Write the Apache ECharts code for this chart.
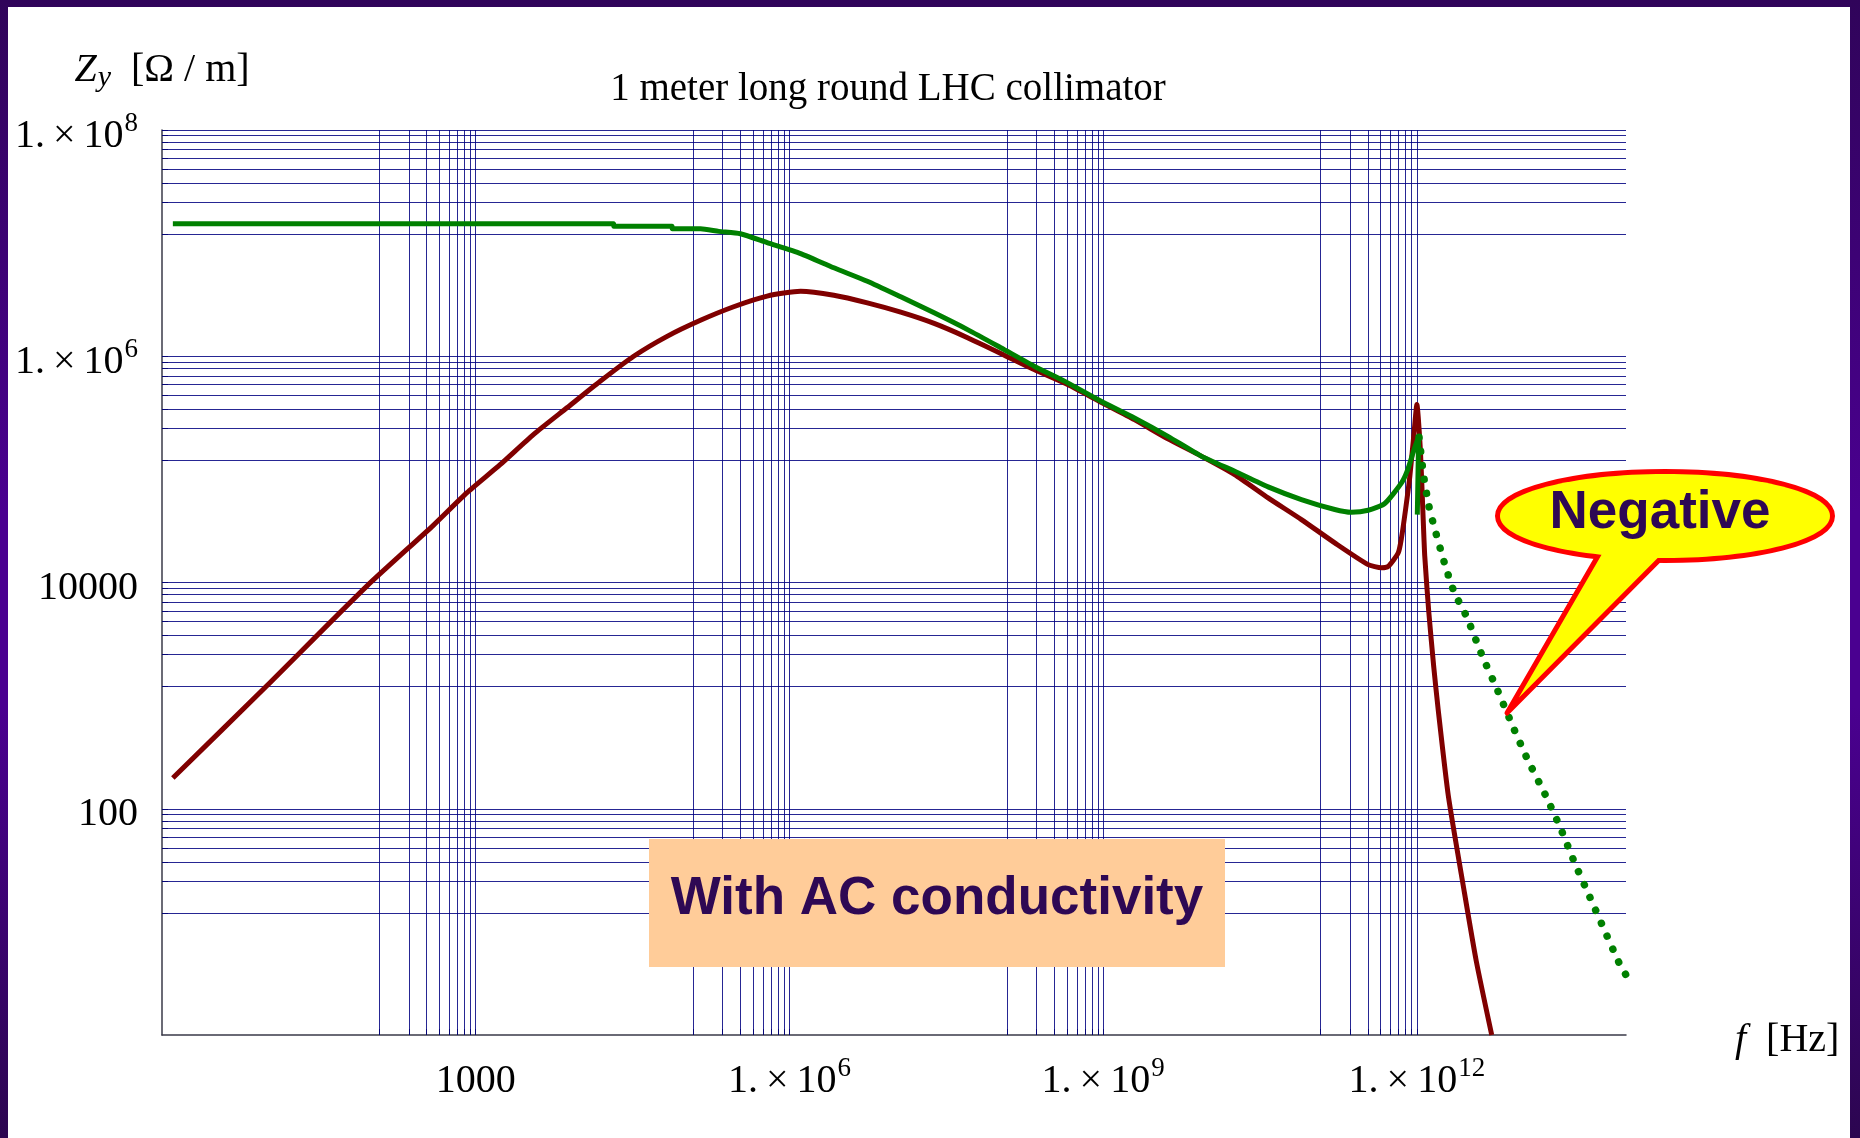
<!DOCTYPE html>
<html>
<head>
<meta charset="utf-8">
<script src="https://cdn.jsdelivr.net/npm/echarts@6/dist/echarts.min.js"></script>
<style>
html,body{margin:0;padding:0;width:1860px;height:1138px;overflow:hidden;background:#fff;}
#frame{position:absolute;left:0;top:0;width:1860px;height:1138px;
  background:linear-gradient(to bottom,#30045a 0%,#4a0090 45%,#4a0090 62%,#2c0650 100%);}
#paper{position:absolute;left:8px;top:7px;right:10px;bottom:0;background:#fff;}
#chart{position:absolute;left:0;top:0;width:1860px;height:1138px;}
</style>
</head>
<body>
<div id="frame"><div id="paper"></div></div>
<div id="chart"></div>
<script>
// ---- data (frequency in Hz, |Z_y| in Ohm/m) ----
const freqRed = [1.27, 9.95, 90.4, 393, 820, 1.71e3, 3.56e3, 7.45e3, 1.55e4, 3.24e4, 6.76e4, 1.41e5, 2.93e5, 6.12e5, 1.28e6, 2.66e6, 5.56e6, 1.16e7, 2.42e7, 5.05e7, 1.05e8, 2.19e8, 4.58e8, 9.55e8, 1.99e9, 4.16e9, 8.67e9, 1.81e10, 3.78e10, 7.87e10, 1.64e11, 3.42e11, 4.59e11, 5.32e11, 6.64e11, 7.13e11, 7.80e11, 8.57e11, 9.40e11, 1.00e12, 1.08e12, 1.14e12, 1.19e12, 1.30e12, 1.45e12, 1.60e12, 2.00e12, 2.80e12, 3.70e12, 5.20e12];
const zRed = [187, 1.21e3, 9.25e3, 3.2e4, 6.19e4, 1.10e5, 2.03e5, 3.50e5, 6.01e5, 1.00e6, 1.50e6, 2.08e6, 2.74e6, 3.40e6, 3.76e6, 3.46e6, 2.96e6, 2.45e6, 1.95e6, 1.46e6, 1.06e6, 7.62e5, 5.62e5, 3.92e5, 2.75e5, 1.86e5, 1.31e5, 8.99e4, 5.60e4, 3.60e4, 2.24e4, 1.44e4, 1.35e4, 1.39e4, 1.83e4, 2.48e4, 4.42e4, 8.69e4, 2.10e5, 3.74e5, 1.50e5, 4.42e4, 1.71e4, 5.5e3, 1.8e3, 750, 130, 20, 4.5, 1.0];

const freqGreen = [1.27, 2.08e4, 2.09e4, 7.53e4, 7.59e4, 1.41e5, 2.11e5, 3.40e5, 6.12e5, 1.28e6, 2.66e6, 5.56e6, 1.16e7, 2.42e7, 5.05e7, 1.05e8, 2.19e8, 4.58e8, 9.55e8, 1.99e9, 4.16e9, 8.67e9, 1.81e10, 3.78e10, 7.87e10, 1.64e11, 2.37e11, 3.42e11, 4.93e11, 7.13e11, 8.18e11, 9.40e11, 1.04e12, 1.01e12];
const zGreen = [1.48e7, 1.48e7, 1.41e7, 1.41e7, 1.34e7, 1.34e7, 1.27e7, 1.21e7, 1.01e7, 8.09e6, 6.05e6, 4.60e6, 3.35e6, 2.42e6, 1.72e6, 1.19e6, 8.17e5, 5.82e5, 4.00e5, 2.85e5, 1.96e5, 1.31e5, 9.62e4, 7.00e4, 5.41e4, 4.42e4, 4.18e4, 4.35e4, 4.99e4, 7.60e4, 9.95e4, 1.50e5, 1.94e5, 3.98e4];

const freqNeg = [1.05e12, 1.16e12, 1.30e12, 1.46e12, 1.82e12, 2.27e12, 3.01e12, 4.20e12, 5.92e12, 8.26e12, 1.14e13, 1.69e13, 2.36e13, 3.23e13, 4.48e13, 6.19e13, 8.59e13, 1.0e14];
const zNeg = [1.92e5, 8.81e4, 4.79e4, 3.14e4, 1.53e4, 8.26e3, 4.92e3, 2.27e3, 1.11e3, 536, 275, 133, 67.6, 33.2, 16.8, 8.53, 4.34, 3.39];

// ---- axes / ticks ----
const xLabelValues = [1e3, 1e6, 1e9, 1e12];
const xTickLabels = ['1000', '1.\u2009×\u200910^6', '1.\u2009×\u200910^9', '1.\u2009×\u200910^12'];
const yLabelValues = [1e2, 1e4, 1e6, 1e8];
const yTickLabels = ['100', '10000', '1.\u2009×\u200910^6', '1.\u2009×\u200910^8'];
const gridFactors = [1, 0.89, 0.78, 0.67, 0.56, 0.45, 0.34, 0.23, 0.12];
const xGridDecades = [1e3, 1e6, 1e9, 1e12];
const yGridDecades = [1e2, 1e4, 1e6, 1e8];

const titleText = '1 meter long round LHC collimator';
const boxText = 'With AC conductivity';
const bubbleText = 'Negative';

const xGridValues = [];
xGridDecades.forEach(d => gridFactors.forEach(f => xGridValues.push(d * f)));
const yGridValues = [];
yGridDecades.forEach(d => gridFactors.forEach(f => yGridValues.push(d * f)));

const zip = (a, b) => a.map((v, i) => [v, b[i]]);

function richLabel(list, values) {
  return function (v) {
    let idx = -1;
    values.forEach((x, i) => { if (Math.abs(Math.log10(x) - Math.log10(v)) < 1e-6) idx = i; });
    if (idx < 0) return '';
    const s = list[idx];
    const m = s.match(/^(.*)\^(\d+)$/);
    return m ? '{m|' + m[1] + '}{s|' + m[2] + '}' : '{m|' + s + '}';
  };
}

const SERIF = '"Liberation Serif", "Times New Roman", serif';
const SANS = '"Liberation Sans", Arial, sans-serif';

const labelRich = {
  m: {fontFamily: SERIF, fontSize: 40, lineHeight: 40, padding: [6, 0, 6, 0], verticalAlign: 'top', color: '#000'},
  s: {fontFamily: SERIF, fontSize: 27, lineHeight: 27, padding: [0, 0, 0, 1], verticalAlign: 'top', color: '#000'}
};

const axisLineStyle = {color: '#3a3a48', width: 1.5};
const tickStyle = {color: '#2a2a40', width: 1};

const chart = echarts.init(document.getElementById('chart'), null, {renderer: 'canvas'});

const option = {
  animation: false,
  textStyle: {fontFamily: SERIF},
  grid: {left: 162, top: 130, width: 1464, height: 905, containLabel: false, outerBoundsMode: 'none'},
  xAxis: {
    type: 'log', logBase: 10, min: 1, max: 1e14,
    name: '{i|f}{n|  [Hz]}', nameLocation: 'end', nameGap: 109,
    nameTextStyle: {
      padding: [10, 0, 0, 0],
      rich: {
        i: {fontFamily: SERIF, fontStyle: 'italic', fontSize: 40, lineHeight: 40, color: '#000'},
        n: {fontFamily: SERIF, fontSize: 40, lineHeight: 40, color: '#000'}
      }
    },
    axisLine: {show: true, onZero: false, lineStyle: axisLineStyle},
    axisTick: {show: true, inside: true, length: 6, customValues: xGridValues, lineStyle: tickStyle},
    axisLabel: {show: true, customValues: xLabelValues, formatter: richLabel(xTickLabels, xLabelValues), margin: 20, rich: labelRich, color: '#000'},
    splitLine: {show: false}, minorTick: {show: false}, minorSplitLine: {show: false}
  },
  yAxis: {
    type: 'log', logBase: 10, min: 1, max: 1e8,
    name: '{i|Z}{sub|y}{n|  [Ω / m]}', nameLocation: 'end', nameGap: 40,
    nameTextStyle: {
      rich: {
        i: {fontFamily: SERIF, fontStyle: 'italic', fontSize: 40, lineHeight: 40, verticalAlign: 'top', color: '#000'},
        sub: {fontFamily: SERIF, fontStyle: 'italic', fontSize: 30, lineHeight: 30, padding: [13, 0, 0, 1], verticalAlign: 'top', color: '#000'},
        n: {fontFamily: SERIF, fontSize: 40, lineHeight: 40, verticalAlign: 'top', color: '#000'}
      }
    },
    axisLine: {show: true, onZero: false, lineStyle: axisLineStyle},
    axisTick: {show: true, inside: true, length: 6, customValues: yGridValues, lineStyle: tickStyle},
    axisLabel: {show: true, customValues: yLabelValues, formatter: richLabel(yTickLabels, yLabelValues), margin: 24, rich: labelRich, color: '#000'},
    splitLine: {show: false}, minorTick: {show: false}, minorSplitLine: {show: false}
  },
  series: [
    {
      name: 'gridlines', type: 'line', data: [], silent: true, z: 1,
      markLine: {
        silent: true, symbol: ['none', 'none'], label: {show: false},
        emphasis: {disabled: true},
        lineStyle: {color: '#000080', width: 1, type: 'solid', opacity: 0.85},
        data: xGridValues.map(v => ({xAxis: v})).concat(yGridValues.map(v => ({yAxis: v})))
      }
    },
    {
      name: 'Z (real part)', type: 'line', data: zip(freqRed, zRed), showSymbol: false, z: 10, smooth: 0.2,
      lineStyle: {color: '#800000', width: 5, join: 'round'}, silent: true
    },
    {
      name: 'Z (positive)', type: 'line', data: zip(freqGreen, zGreen), showSymbol: false, z: 11, smooth: 0.2,
      lineStyle: {color: '#008000', width: 5, join: 'round'}, silent: true
    },
    {
      name: 'Z (negative)', type: 'line', data: zip(freqNeg, zNeg), showSymbol: false, z: 11, smooth: 0.2,
      lineStyle: {color: '#008000', width: 7.5, type: [0.1, 14], cap: 'round'}, silent: true
    }
  ],
  graphic: [
    {type: 'text', x: 888, y: 90, z: 100, silent: true,
     style: {text: titleText, fontFamily: SERIF, fontSize: 39, fill: '#000',
             textAlign: 'center', align: 'center', textVerticalAlign: 'middle', verticalAlign: 'middle'}},
    {type: 'rect', z: 100, silent: true, shape: {x: 649, y: 839, width: 576, height: 128}, style: {fill: '#FFCC99'}},
    {type: 'text', x: 937, y: 899, z: 101, silent: true,
     style: {text: boxText, fontFamily: SANS, fontWeight: 'bold', fontSize: 53, fill: '#2E0854',
             textAlign: 'center', align: 'center', textVerticalAlign: 'middle', verticalAlign: 'middle'}},
    // speech bubble: bordered ellipse, bordered tail, then plain ellipse fill to merge them
    {type: 'ellipse', z: 100, silent: true, shape: {cx: 1665, cy: 516, rx: 165, ry: 42},
     style: {fill: '#FFFF00', stroke: '#FF0000', lineWidth: 10}},
    {type: 'polygon', z: 101, silent: true, shape: {points: [[1613, 530], [1689, 530], [1507, 713]]},
     style: {fill: '#FFFF00', stroke: '#FF0000', lineWidth: 5, lineJoin: 'round'}},
    {type: 'ellipse', z: 102, silent: true, shape: {cx: 1665, cy: 516, rx: 165, ry: 42},
     style: {fill: '#FFFF00'}},
    {type: 'text', x: 1660, y: 513, z: 103, silent: true,
     style: {text: bubbleText, fontFamily: SANS, fontWeight: 'bold', fontSize: 53, fill: '#2E0854',
             textAlign: 'center', align: 'center', textVerticalAlign: 'middle', verticalAlign: 'middle'}}
  ]
};
chart.setOption(option);
</script>
</body>
</html>
